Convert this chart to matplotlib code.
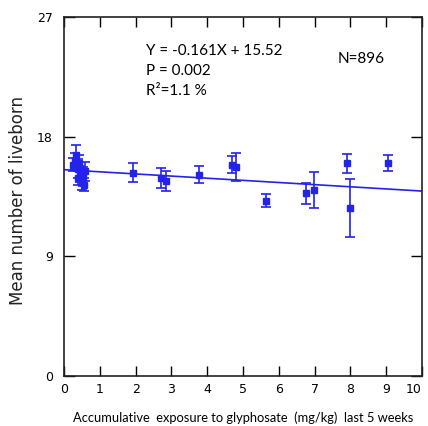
import matplotlib
matplotlib.use('Agg')
import matplotlib.pyplot as plt
import numpy as np

# exposure (mg/kg), mean liveborn, half error
exposure = [0.25, 0.30, 0.33, 0.38, 0.40, 0.42, 0.45, 0.50, 0.52, 0.55, 0.60,
            1.92, 2.70, 2.85, 3.78, 4.70, 4.80, 5.63, 6.75, 6.97, 7.90, 7.99, 9.04]
liveborn = [15.9, 16.2, 16.6, 15.6, 14.9, 16.0, 15.2, 14.6, 15.0, 14.4, 15.4,
            15.3, 14.9, 14.7, 15.15, 15.9, 15.75, 13.2, 13.75, 14.0, 16.0, 12.65, 16.0]
err = [0.5, 0.6, 0.8, 0.7, 0.5, 0.6, 0.6, 0.6, 0.7, 0.5, 0.7,
       0.7, 0.75, 0.75, 0.65, 0.65, 1.05, 0.5, 0.8, 1.35, 0.7, 2.2, 0.6]

slope, intercept = -0.161, 15.52
BLUE = '#2323ea'

fig = plt.figure(figsize=(4.28, 4.26), dpi=100)
ax = fig.add_axes([0.1495, 0.1174, 0.8365, 0.8426])

ax.errorbar(exposure, liveborn, yerr=err, fmt='s', color=BLUE, ms=4,
            capsize=3.5, elinewidth=1.2, capthick=1.2, zorder=3)
xs = np.array([0, 10])
ax.plot(xs, slope * xs + intercept, color=BLUE, lw=1.2, zorder=2)

ax.set_xlim(0, 10)
ax.set_ylim(0, 27)
ax.set_xticks(range(0, 11))
ax.set_yticks([0, 9, 18, 27])
ax.tick_params(axis='x', direction='in', length=7, width=1, top=True,
               labelsize=9, pad=5)
ax.tick_params(axis='y', direction='in', length=8, width=1, right=True,
               labelsize=9, pad=8)
# keep the last x label inside the figure
ax.get_xticklabels()[-1].set_horizontalalignment('right')
for s in ax.spines.values():
    s.set_linewidth(1.2)
    s.set_color('#222222')

fig.text(0.042, 0.53, 'Mean number of liveborn', rotation=90, fontsize=12,
         family='DejaVu Sans', ha='center', va='center', color='#222222')
ax.set_xlabel('Accumulative  exposure to glyphosate  (mg/kg)  last 5 weeks',
              fontsize=9.3, family='Lato', labelpad=11)

ax.text(2.3, 24.45, 'Y = -0.161X + 15.52', fontsize=11, family='Lato', va='center')
ax.text(2.3, 22.95, 'P = 0.002', fontsize=11, family='Lato', va='center')
ax.text(2.3, 21.45, 'R\u00b2=1.1 %', fontsize=11, family='Lato', va='center')
ax.text(7.63, 23.85, 'N=896', fontsize=11, family='Lato', va='center')

fig.savefig('out.png', dpi=100, facecolor='white')
